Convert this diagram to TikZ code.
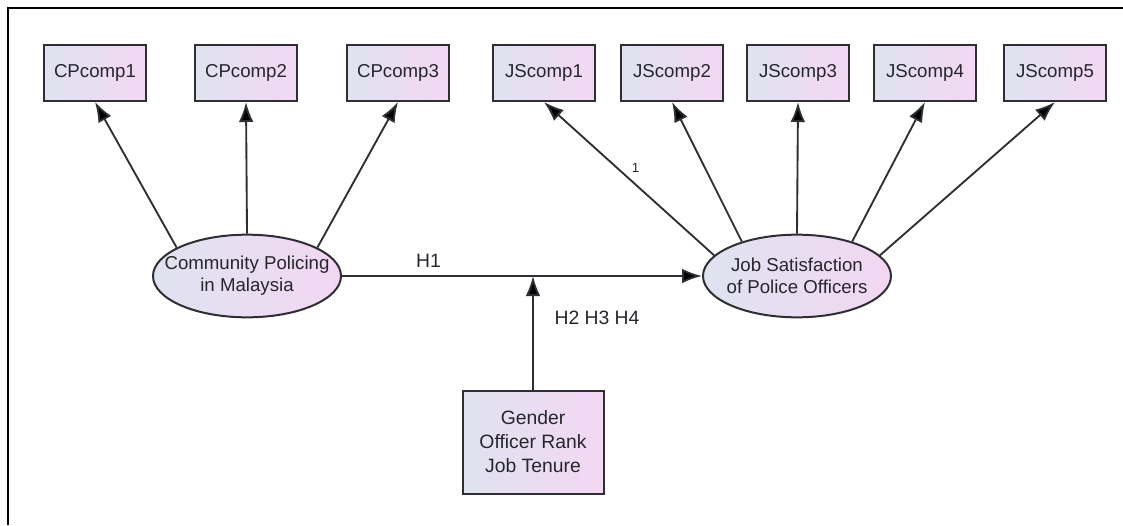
\documentclass[tikz,border=0pt]{standalone}
\usepackage{fontspec}
\setmainfont{Liberation Sans}
\usetikzlibrary{arrows.meta,shapes.geometric}
\definecolor{edge}{HTML}{2E2E34}
\definecolor{txt}{HTML}{26262C}
\definecolor{fillL}{HTML}{DFE3F0}
\definecolor{fillR}{HTML}{F3D7F3}
\tikzset{
  comp/.style={draw=edge, line width=1.5pt, shading=axis, left color=fillL, right color=fillR,
    minimum width=76.5pt, minimum height=42pt, inner sep=0pt, text=txt,
    font=\fontsize{14}{16.5}\selectfont},
  latent/.style={ellipse, draw=edge, line width=1.5pt, shading=axis, left color=fillL, right color=fillR,
    minimum width=141pt, minimum height=62pt, inner sep=0pt},
  ltext/.style={align=center, text=txt, inner sep=0pt, font=\fontsize{14}{16.5}\selectfont},
  modbox/.style={draw=edge, line width=1.5pt, shading=axis, left color=fillL, right color=fillR,
    minimum width=105.75pt, minimum height=77.25pt, inner sep=0pt, align=center, text=txt,
    font=\fontsize{14.5}{18}\selectfont},
  conn/.style={draw=edge, line width=1.4pt, -{Latex[length=15pt,width=11pt,fill=black]}},
  lbl/.style={text=txt, font=\fontsize{14.5}{17}\selectfont, inner sep=0pt},
}
\begin{document}
\begin{tikzpicture}[x=0.75pt, y=-0.75pt]
\useasboundingbox (0,0) rectangle (1123,525);
\draw[line width=1.6pt, black] (8,525) -- (8,8) -- (1123,8);

\node[comp] (cp1) at (95,73) {CPcomp1};
\node[comp] (cp2) at (246,73) {CPcomp2};
\node[comp] (cp3) at (398,73) {CPcomp3};
\node[comp] (js1) at (544,73) {JScomp1};
\node[comp] (js2) at (672,73) {JScomp2};
\node[comp] (js3) at (798,73) {JScomp3};
\node[comp] (js4) at (925,73) {JScomp4};
\node[comp] (js5) at (1055,73) {JScomp5};

\node[latent] (cp) at (247,276) {};
\node[ltext] (cpt) at (cp.center) {Community Policing\\in Malaysia};
\node[latent] (js) at (797,276) {};
\node[ltext] (jst) at (js.center) {Job Satisfaction\\of Police Officers};

\node[modbox] (mod) at (533,442) {Gender\\Officer Rank\\Job Tenure};

\draw[conn] (cp.158) -- (cp1.south);
\draw[conn] (cp.90) -- (cp2.south);
\draw[conn] (cp.22) -- (cp3.south);

\draw[conn] (js.166) -- node[lbl, font=\fontsize{10}{12}\selectfont, pos=0.56, xshift=12.5pt, yshift=1pt] (one) {1} (js1.south);
\draw[conn] (js.148) -- (js2.south);
\draw[conn] (js.90) -- (js3.south);
\draw[conn] (js.32) -- (js4.south);
\draw[conn] (js.14) -- (js5.south);

\draw[conn] (cp.east) -- node[lbl, pos=0.24, above=6pt] (h1) {H1} (js.west);
\coordinate (mid) at (mod.north |- cp.east);
\draw[conn] (mod.north) -- (mid);
\node[lbl] (h234) at (597,318) {H2 H3 H4};
\end{tikzpicture}
\end{document}
